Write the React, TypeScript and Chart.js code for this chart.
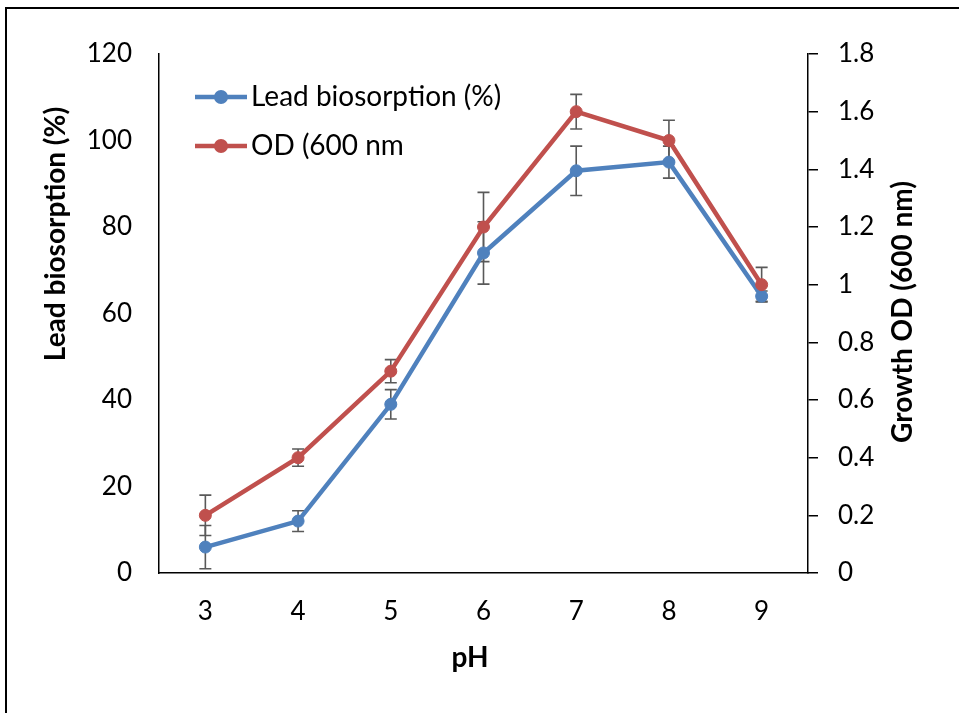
import { useEffect, useRef } from "react";
import { Chart, registerables } from "chart.js";

Chart.register(...registerables);

const phLabels = ["3", "4", "5", "6", "7", "8", "9"];
const leadBiosorption = [6, 12, 39, 74, 93, 95, 64];
const leadError = [5, 2.4, 3.4, 7.2, 5.7, 3.7, 1.2];
const growthOD = [0.2, 0.4, 0.7, 1.2, 1.6, 1.5, 1.0];
const odError = [0.07, 0.03, 0.04, 0.12, 0.06, 0.07, 0.06];
const rightTickLabels = ["0", "0.2", "0.4", "0.6", "0.8", "1", "1.2", "1.4", "1.6", "1.8"];

const leadLabel = "Lead biosorption (%)";
const odLabel = "OD (600 nm";
const leftTitle = "Lead biosorption (%)";
const rightTitle = "Growth OD (600 nm)";
const xTitle = "pH";

const BLUE = "#4F81BD";
const RED = "#C0504D";
const ERR = "#595959";
const FONT = "Lato, 'Noto Sans', sans-serif";

const errorBarPlugin = {
  id: "errorBars",
  beforeDatasetsDraw(chart: any) {
    const ctx = chart.ctx;
    const x = chart.scales.x;
    const sets = [
      { scale: chart.scales.y, vals: leadBiosorption, errs: leadError },
      { scale: chart.scales.y1, vals: growthOD, errs: odError },
    ];
    ctx.save();
    ctx.strokeStyle = ERR;
    ctx.lineWidth = 1.6;
    sets.forEach((s) => {
      s.vals.forEach((v, i) => {
        const px = x.getPixelForValue(i);
        const top = s.scale.getPixelForValue(v + s.errs[i]);
        const bot = s.scale.getPixelForValue(v - s.errs[i]);
        ctx.beginPath();
        ctx.moveTo(px, top);
        ctx.lineTo(px, bot);
        ctx.moveTo(px - 6, top);
        ctx.lineTo(px + 6, top);
        ctx.moveTo(px - 6, bot);
        ctx.lineTo(px + 6, bot);
        ctx.stroke();
      });
    });
    ctx.restore();
  },
};

const framePlugin = {
  id: "frame",
  beforeDraw(chart: any) {
    const ctx = chart.ctx;
    ctx.save();
    ctx.fillStyle = "#ffffff";
    ctx.fillRect(0, 0, chart.width, chart.height);
    ctx.strokeStyle = "#000000";
    ctx.lineWidth = 2;
    ctx.strokeRect(6, 8, 2000, 2000);
    ctx.restore();
  },
};

const annotationPlugin = {
  id: "annotations",
  afterDraw(chart: any) {
    const ctx = chart.ctx;
    ctx.save();
    ctx.fillStyle = "#000000";
    ctx.textAlign = "center";
    ctx.textBaseline = "middle";
    ctx.font = `bold 28px ${FONT}`;
    ctx.save();
    ctx.translate(56, 234);
    ctx.rotate(-Math.PI / 2);
    ctx.fillText(leftTitle, 0, 0);
    ctx.restore();
    ctx.save();
    ctx.translate(903, 312);
    ctx.rotate(-Math.PI / 2);
    ctx.fillText(rightTitle, 0, 0);
    ctx.restore();
    ctx.fillText(xTitle, 470, 658);

    // legend
    const items = [
      { label: leadLabel, color: chart.data.datasets[0].borderColor, y: 97 },
      { label: odLabel, color: chart.data.datasets[1].borderColor, y: 146 },
    ];
    items.forEach((it) => {
      ctx.strokeStyle = it.color;
      ctx.fillStyle = it.color;
      ctx.lineWidth = 4.5;
      ctx.beginPath();
      ctx.moveTo(195, it.y);
      ctx.lineTo(247, it.y);
      ctx.stroke();
      ctx.beginPath();
      ctx.arc(221, it.y, 7, 0, Math.PI * 2);
      ctx.fill();
      ctx.fillStyle = "#000000";
      ctx.textAlign = "left";
      ctx.font = `28px ${FONT}`;
      ctx.fillText(it.label, 251, it.y);
    });
    ctx.restore();
  },
};

export default function App() {
  const ref = useRef<HTMLCanvasElement>(null);
  useEffect(() => {
    if (!ref.current) return;
    const chart = new Chart(ref.current, {
      type: "line",
      data: {
        labels: phLabels,
        datasets: [
          {
            label: leadLabel,
            data: leadBiosorption,
            borderColor: BLUE,
            backgroundColor: BLUE,
            pointBackgroundColor: BLUE,
            pointBorderColor: BLUE,
            borderWidth: 4.5,
            pointRadius: 6,
            pointBorderWidth: 1,
            yAxisID: "y",
            order: 1,
          },
          {
            label: odLabel,
            data: growthOD,
            borderColor: RED,
            backgroundColor: RED,
            pointBackgroundColor: RED,
            pointBorderColor: RED,
            borderWidth: 4.5,
            pointRadius: 6,
            pointBorderWidth: 1,
            yAxisID: "y1",
            order: 0,
          },
        ],
      },
      options: {
        responsive: false,
        animation: false,
        devicePixelRatio: 1,
        layout: { padding: { top: 54, left: 0, right: 0, bottom: 0 } },
        plugins: { legend: { display: false }, tooltip: { enabled: false } },
        scales: {
          x: {
            type: "category",
            offset: true,
            grid: { display: false, drawTicks: false },
            border: { display: true, color: "#000000", width: 1.5 },
            ticks: { color: "#000000", font: { family: FONT, size: 26 }, padding: 23 },
            afterFit: (s: any) => {
              s.height = 140;
            },
          },
          y: {
            type: "linear",
            position: "left",
            min: 0,
            max: 120,
            grid: { display: false, drawTicks: false },
            border: { display: true, color: "#000000", width: 1.5 },
            ticks: { stepSize: 20, color: "#000000", font: { family: FONT, size: 26 }, padding: 27 },
            afterFit: (s: any) => {
              s.width = 159;
            },
          },
          y1: {
            type: "linear",
            position: "right",
            min: 0,
            max: 1.8,
            grid: {
              display: true,
              drawOnChartArea: false,
              drawTicks: true,
              tickLength: 10,
              color: "#000000",
              lineWidth: 1.5,
            },
            border: { display: true, color: "#000000", width: 1.5 },
            ticks: {
              stepSize: 0.2,
              color: "#000000",
              font: { family: FONT, size: 26 },
              padding: 20,
              callback: (_v: any, i: number) => rightTickLabels[i],
            },
            afterFit: (s: any) => {
              s.width = 151;
            },
          },
        },
      },
      plugins: [framePlugin, errorBarPlugin, annotationPlugin],
    });
    return () => chart.destroy();
  }, []);
  return (
    <div style={{ position: "fixed", left: 0, top: 0, width: 959, height: 713 }}>
      <canvas ref={ref} width={959} height={713} style={{ width: 959, height: 713 }} />
    </div>
  );
}
